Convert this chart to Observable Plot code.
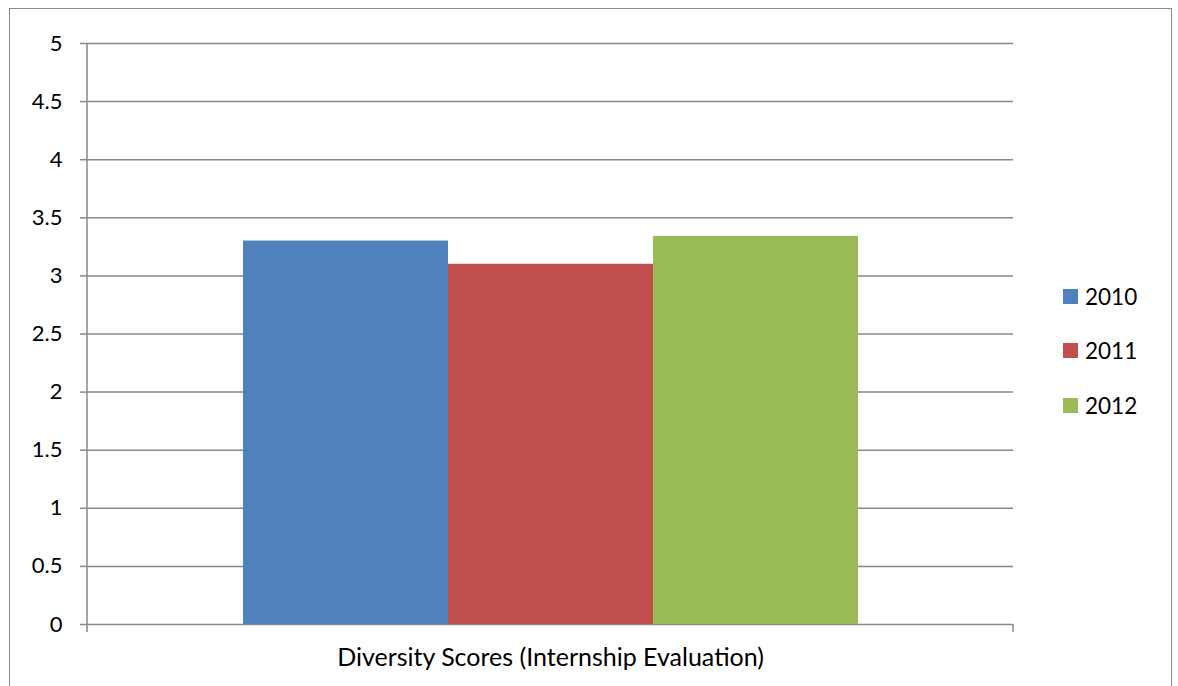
<!DOCTYPE html>
<html>
<head>
<meta charset="utf-8">
<script src="https://cdn.jsdelivr.net/npm/d3@7"></script>
<script src="https://cdn.jsdelivr.net/npm/@observablehq/plot@0.6"></script>
<style>
  html, body { margin: 0; padding: 0; background: #fff; width: 1178px; height: 686px; overflow: hidden; }
  #wrap { position: relative; width: 1178px; height: 686px; font-family: Lato, "Open Sans", sans-serif; }
  #border { position: absolute; left: 9px; top: 8px; width: 1163px; height: 700px; border: 1.5px solid #8a8a8a; box-sizing: border-box; }
  #chart { position: absolute; left: 0; top: 0; }
  #legend { position: absolute; left: 1063px; top: 282px; font-size: 22.5px; color: #000; }
  .item { display: flex; align-items: center; height: 28px; margin-bottom: 26.5px; }
  .sw { width: 15px; height: 15px; margin-right: 7px; }
</style>
</head>
<body>
<div id="wrap">
  <div id="border"></div>
  <div id="chart"></div>
  <div id="legend"></div>
</div>
<script>
const categories = ["Diversity Scores (Internship Evaluation)"];
const years = ["2010", "2011", "2012"];
const values = [3.3, 3.1, 3.34];
const colors = ["#4F81BD", "#C0504D", "#9BBB59"];
const yTicks = [0, 0.5, 1, 1.5, 2, 2.5, 3, 3.5, 4, 4.5, 5];

const data = years.map((y, i) => ({year: y, value: values[i], category: categories[0]}));
const gray = "#898989";

const edgeTicks = (index, scales, values, dims) => {
  const g = d3.create("svg:g").attr("stroke", gray).attr("stroke-width", 1.5);
  const l = dims.marginLeft, r = dims.width - dims.marginRight;
  const t = dims.marginTop, b = dims.height - dims.marginBottom;
  g.append("line").attr("x1", l).attr("x2", l).attr("y1", t).attr("y2", b + 8);
  g.append("line").attr("x1", r).attr("x2", r).attr("y1", b).attr("y2", b + 8);
  return g.node();
};

const chart = Plot.plot({
  width: 1178,
  height: 686,
  marginLeft: 87,
  marginRight: 165,
  marginTop: 43,
  marginBottom: 62,
  style: {fontFamily: "Lato, 'Open Sans', sans-serif", fontSize: "22px", color: "#000", background: "transparent"},
  x: {domain: years, paddingInner: 0, paddingOuter: 0.75, axis: null},
  y: {domain: [0, 5], axis: null},
  color: {domain: years, range: colors},
  marks: [
    Plot.ruleY(yTicks, {stroke: gray, strokeWidth: 1.5}),
    Plot.axisY({ticks: yTicks, tickSize: 7, tickPadding: 18, tickFormat: d => String(d), stroke: gray, strokeWidth: 1.5, label: null, fontSize: 22, fill: "#000"}),
    Plot.barY(data, {x: "year", y: "value", fill: "year", inset: 0}),
    edgeTicks,
    Plot.text(categories, {frameAnchor: "bottom", text: d => d, dy: 41, fontSize: 25, fill: "#000"})
  ]
});
document.getElementById("chart").appendChild(chart);

const legend = d3.select("#legend");
years.forEach((y, i) => {
  const it = legend.append("div").attr("class", "item");
  it.append("div").attr("class", "sw").style("background", colors[i]);
  it.append("span").text(y);
});
</script>
</body>
</html>
